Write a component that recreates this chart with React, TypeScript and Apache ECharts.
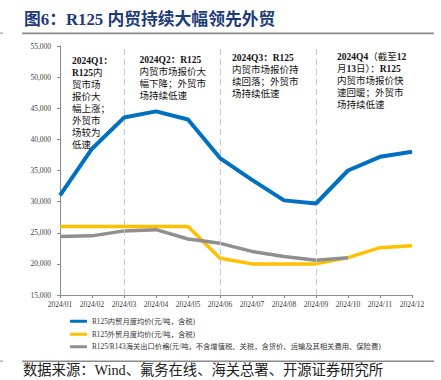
import React, { useEffect, useRef } from "react";
import * as echarts from "echarts";

const categories = [
  "2024/01", "2024/02", "2024/03", "2024/04", "2024/05", "2024/06",
  "2024/07", "2024/08", "2024/09", "2024/10", "2024/11", "2024/12",
];
const domesticPrice = [31000, 38500, 43500, 44500, 43200, 37000, 33500, 30200, 29700, 35000, 37200, 38000];
const exportPrice = [26000, 26000, 26000, 26000, 26000, 20900, 20000, 20000, 20000, 21000, 22600, 22900];
const customsPrice: (number | null)[] = [24400, 24500, 25300, 25500, 24000, 23300, 22000, 21200, 20600, 21000, null, null];
const seriesNames = [
  "R125内贸月度均价(元/吨，含税)",
  "R125外贸月度均价(元/吨，含税)",
  "R125/R143海关出口价格(元/吨，不含增值税、关税，含货价、运输及其相关费用、保险费)",
];
const quarterMarks = ["2024/03", "2024/06", "2024/09"];
const annotations = [
  "{b|2024Q1：}\n{b|R125}内\n贸市场\n报价大\n幅上涨；\n外贸市\n场较为\n低速",
  "{b|2024Q2：R125}\n内贸市场报价大\n幅下降；外贸市\n场持续低速",
  "{b|2024Q3：R125}\n内贸市场报价持\n续回落；外贸市\n场持续低速",
  "{b|2024Q4}（截至{b|12}\n月{b|13}日）：{b|R125}\n内贸市场报价快\n速回暖；外贸市\n场持续低速",
];
const titleText = "图6：R125 内贸持续大幅领先外贸";
const sourceText = "数据来源：Wind、氟务在线、海关总署、开源证券研究所";

const SERIF = '"Liberation Serif", "Times New Roman", "Noto Sans CJK SC", serif';
const COLORS = ["#0070C0", "#FFC000", "#8F8F8F"];

export default function App() {
  const ref = useRef<HTMLDivElement>(null);
  useEffect(() => {
    if (!ref.current) return;
    const chart = echarts.init(ref.current, undefined, { renderer: "svg" });
    const annPos = [
      [72, 55],
      [139.5, 53.5],
      [232, 51.5],
      [337, 51],
    ];
    const legendTops = [317.5, 330.5, 343];
    chart.setOption({
      animation: false,
      backgroundColor: "#ffffff",
      grid: { left: 60, right: 29, top: 46, bottom: 85 },
      xAxis: {
        type: "category",
        data: categories,
        boundaryGap: false,
        axisLine: { lineStyle: { color: "#8c8c8c", width: 1 } },
        axisTick: { show: true, length: 3, lineStyle: { color: "#8c8c8c" } },
        axisLabel: { fontSize: 7.5, color: "#404040", fontFamily: SERIF, margin: 6, interval: 0 },
        splitLine: { show: false },
      },
      yAxis: {
        type: "value",
        min: 15000,
        max: 55000,
        interval: 5000,
        axisLine: { show: true, lineStyle: { color: "#8c8c8c", width: 1 } },
        axisTick: { show: true, length: 3, lineStyle: { color: "#8c8c8c" } },
        axisLabel: {
          fontSize: 7.5,
          color: "#404040",
          fontFamily: SERIF,
          margin: 9,
          formatter: (v: number) => v.toLocaleString("en-US"),
        },
        splitLine: { show: false },
      },
      legend: seriesNames.map((name, i) => ({
        data: [name],
        left: 70,
        top: legendTops[i],
        padding: 0,
        itemWidth: 17,
        itemHeight: 3,
        icon: "roundRect",
        textStyle: { fontSize: 7.3, color: "#333", fontFamily: SERIF },
      })),
      series: [
        {
          name: seriesNames[0],
          type: "line",
          data: domesticPrice,
          symbol: "none",
          lineStyle: { color: COLORS[0], width: 4 },
          itemStyle: { color: COLORS[0] },
          z: 5,
          markLine: {
            silent: true,
            symbol: "none",
            label: { show: false },
            lineStyle: { type: [6, 4], color: "#C8C8C8", width: 1 },
            data: quarterMarks.map((m) => ({ xAxis: m })),
          },
        },
        {
          name: seriesNames[1],
          type: "line",
          data: exportPrice,
          symbol: "none",
          lineStyle: { color: COLORS[1], width: 3.5 },
          itemStyle: { color: COLORS[1] },
          z: 3,
        },
        {
          name: seriesNames[2],
          type: "line",
          data: customsPrice,
          symbol: "none",
          connectNulls: false,
          lineStyle: { color: COLORS[2], width: 3.5 },
          itemStyle: { color: COLORS[2] },
          z: 4,
        },
      ],
      graphic: [
        {
          type: "text",
          left: 24,
          top: 11.5,
          style: {
            text: titleText,
            fontSize: 16.8,
            fontWeight: "bold",
            fill: "#1d3b7a",
            fontFamily: SERIF,
          },
        },
        { type: "rect", shape: { x: 22, y: 32.5, width: 412, height: 1.7 }, style: { fill: "#8a8a8a" } },
        { type: "rect", shape: { x: 0, y: 32.5, width: 3, height: 1.2 }, style: { fill: "#a0a0a0" } },
        { type: "rect", shape: { x: 22, y: 360.5, width: 412, height: 1.5 }, style: { fill: "#8a8a8a" } },
        { type: "rect", shape: { x: 0, y: 360.5, width: 3, height: 1.2 }, style: { fill: "#a0a0a0" } },
        {
          type: "text",
          left: 23,
          top: 362.5,
          style: {
            text: sourceText,
            fontSize: 14.3,
            fill: "#222",
            fontFamily: SERIF,
          },
        },
        ...annotations.map((t, i) => ({
          type: "text",
          x: annPos[i][0],
          y: annPos[i][1],
          z: 10,
          style: {
            text: t,
            fontSize: 9.5,
            lineHeight: 12,
            fill: "#111",
            fontFamily: SERIF,
            verticalAlign: "top",
            align: "left",
            rich: {
              b: { fontWeight: "bold", fontSize: 9.5, lineHeight: 12, fontFamily: SERIF, fill: "#111" },
            },
          },
        })),
      ],
    });
    return () => chart.dispose();
  }, []);
  return (
    <div
      ref={ref}
      style={{ position: "fixed", left: 0, top: 0, width: 441, height: 380, background: "#fff" }}
    />
  );
}
